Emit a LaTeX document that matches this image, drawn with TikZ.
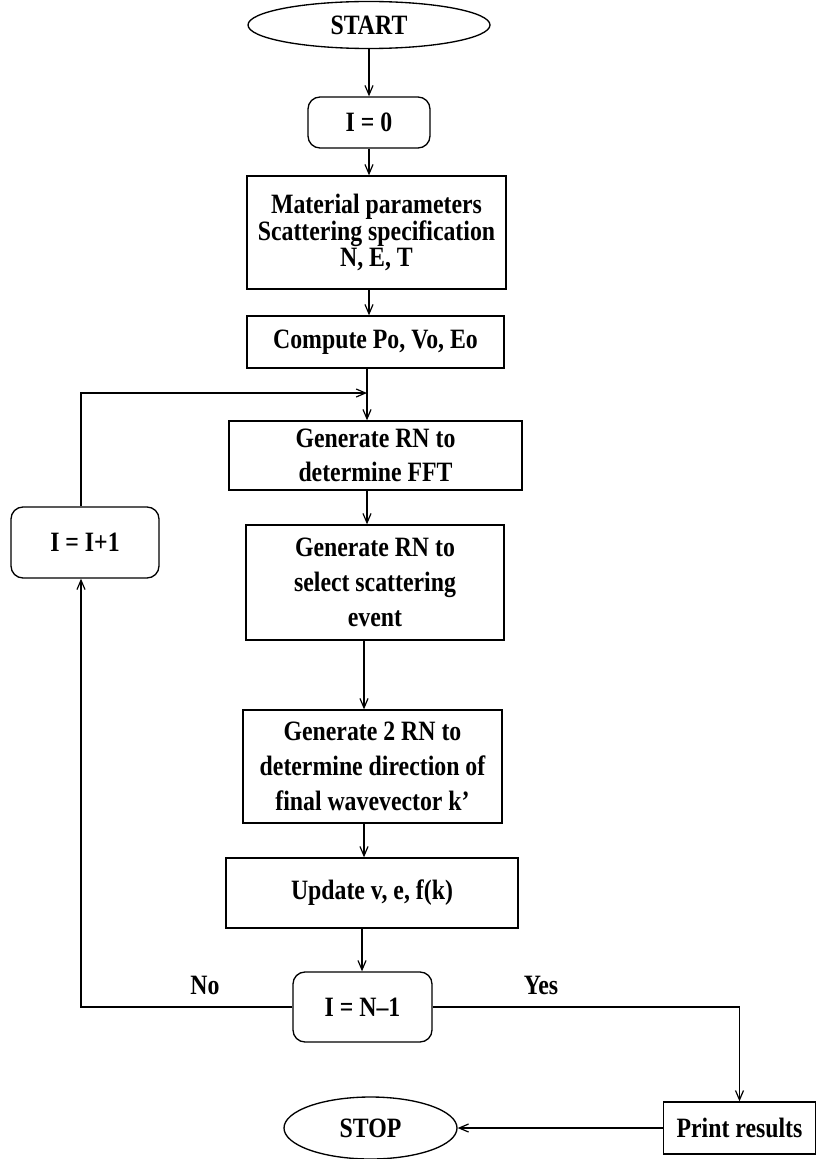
\documentclass[tikz,border=0pt]{standalone}
\usepackage{fontspec}
\setmainfont{Liberation Serif}[FakeStretch=0.85]
\usetikzlibrary{shapes.geometric,arrows.meta}
\tikzset{
  box/.style={draw, line width=1pt, inner sep=0pt, align=center,
    font=\fontsize{21}{26}\selectfont\bfseries},
  rbox/.style={box, rounded corners=9pt},
  oval/.style={draw, line width=1pt, ellipse, inner sep=0pt,
    font=\fontsize{21}{26}\selectfont\bfseries},
  arr/.style={line width=0.9pt, -{Straight Barb[length=7pt,width=6pt,line width=0.9pt]}},
  lbl/.style={font=\fontsize{21}{26}\selectfont\bfseries}
}
\begin{document}
\begin{tikzpicture}[x=0.75pt,y=-0.75pt]
\useasboundingbox (0,0) rectangle (816,1159);
\node[oval, minimum width=181.5pt, minimum height=35.25pt] (start) at (369,25) {START};
\node[rbox, minimum width=91.5pt, minimum height=38.25pt] (i0) at (369,122.5) {I = 0};
\node[box, minimum width=194.25pt, minimum height=84.75pt, font=\fontsize{21}{20}\selectfont\bfseries] (mat) at (376.5,232.5) {Material parameters\\Scattering specification\\N, E, T};
\node[box, minimum width=192.75pt, minimum height=39pt] (comp) at (375.5,342) {Compute Po, Vo, Eo};
\node[box, minimum width=219.75pt, minimum height=51.75pt, font=\fontsize{21}{25}\selectfont\bfseries] (fft) at (375.5,455.5) {Generate RN to\\determine FFT};
\node[box, minimum width=193.5pt, minimum height=86.25pt] (sel) at (375,582.5) {Generate RN to\\select scattering\\event};
\node[box, minimum width=194.25pt, minimum height=84.75pt] (gen2) at (372.5,766.5) {Generate 2 RN to\\determine direction of\\final wavevector k’};
\node[box, minimum width=219pt, minimum height=52.5pt] (upd) at (372,893) {Update v, e, f(k)};
\node[rbox, minimum width=104.25pt, minimum height=52.5pt] (inn) at (362.5,1007) {I = N--1};
\node[rbox, minimum width=111pt, minimum height=53.25pt] (inc) at (85,542.5) {I = I+1};
\node[box, minimum width=114pt, minimum height=39pt] (print) at (739.5,1128) {Print results};
\node[oval, minimum width=129.75pt, minimum height=46.5pt] (stop) at (370.5,1128) {STOP};
\node[lbl] (no) at (205,985) {No};
\node[lbl] (yes) at (541,985) {Yes};

\coordinate (axA) at (369,0);
\coordinate (axB) at (367,0);
\coordinate (axC) at (364,0);
\coordinate (axD) at (362,0);
\coordinate (lx) at (81,0);
\coordinate (j) at (367,393);

\draw[arr] (start.south -| axA) -- (i0.north -| axA);
\draw[arr] (i0.south -| axA) -- (mat.north -| axA);
\draw[arr] (mat.south -| axA) -- (comp.north -| axA);
\draw[arr] (comp.south -| axB) -- (fft.north -| axB);
\draw[arr] (fft.south -| axB) -- (sel.north -| axB);
\draw[arr] (sel.south -| axC) -- (gen2.north -| axC);
\draw[arr] (gen2.south -| axC) -- (upd.north -| axC);
\draw[arr] (upd.south -| axD) -- (inn.north -| axD);
\draw[arr] (inc.north -| lx) |- (j);
\draw[arr] (inn.west) -| (inc.south -| lx);
\draw[arr] (inn.east) -| (print.north);
\draw[arr] (print.west) -- (stop.east);
\end{tikzpicture}
\end{document}
